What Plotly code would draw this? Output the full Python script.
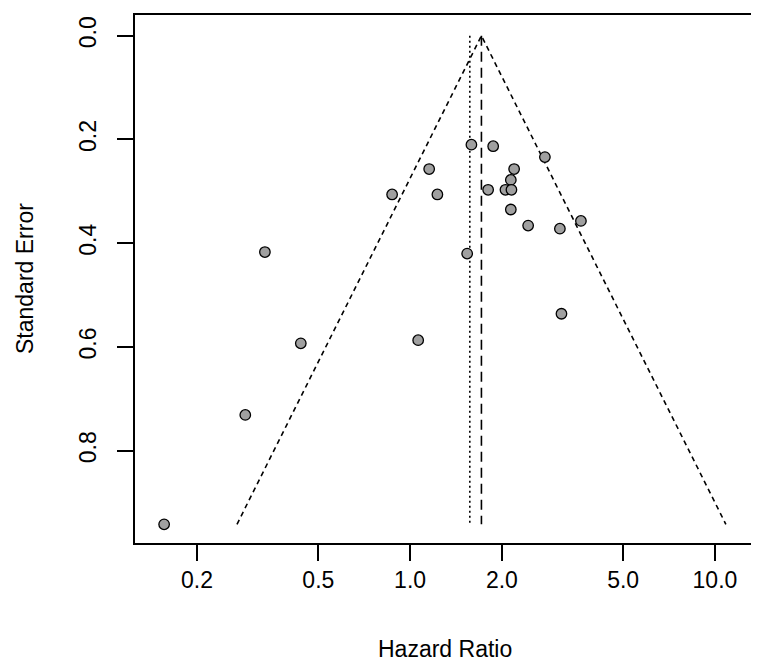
import numpy as np
import plotly.graph_objects as go

# Study-level hazard ratios and their standard errors
hazard_ratio = [1.589, 1.873, 2.768, 2.194, 2.140, 1.803, 2.055, 2.150, 2.140, 2.439,
                3.100, 3.634, 1.539, 3.137, 1.155, 0.873, 1.229, 0.334, 0.438, 1.063,
                0.288, 0.156]
std_error = [0.210, 0.213, 0.234, 0.257, 0.278, 0.297, 0.297, 0.297, 0.335, 0.366,
             0.372, 0.357, 0.420, 0.536, 0.257, 0.306, 0.306, 0.417, 0.593, 0.587,
             0.731, 0.942]

pooled_hr = 1.714      # summary estimate (funnel apex, dashed line)
reference_hr = 1.570   # dotted reference line

x_tick_vals = [0.2, 0.5, 1.0, 2.0, 5.0, 10.0]
x_tick_text = ["0.2", "0.5", "1.0", "2.0", "5.0", "10.0"]
y_tick_vals = [0.0, 0.2, 0.4, 0.6, 0.8]
y_tick_text = ["0.0", "0.2", "0.4", "0.6", "0.8"]

se_max = max(std_error)
ln_est = np.log(pooled_hr)
lower_end = float(np.exp(ln_est - 1.96 * se_max))
upper_end = float(np.exp(ln_est + 1.96 * se_max))

FONT = "Liberation Sans, Arial, sans-serif"

fig = go.Figure()

# funnel (pseudo-confidence) lines
fig.add_trace(go.Scatter(x=[lower_end, pooled_hr, upper_end], y=[se_max, 0, se_max],
                         mode="lines", line=dict(color="black", width=1.6, dash="5px,4px"),
                         hoverinfo="skip", showlegend=False))
# pooled estimate line
fig.add_trace(go.Scatter(x=[pooled_hr, pooled_hr], y=[0, se_max],
                         mode="lines", line=dict(color="black", width=1.6, dash="10px,6px"),
                         hoverinfo="skip", showlegend=False))
# dotted reference line
fig.add_trace(go.Scatter(x=[reference_hr, reference_hr], y=[0, se_max],
                         mode="lines", line=dict(color="black", width=1.6, dash="2px,3px"),
                         hoverinfo="skip", showlegend=False))
# studies
fig.add_trace(go.Scatter(x=hazard_ratio, y=std_error, mode="markers",
                         marker=dict(size=10.5, color="#a0a0a0",
                                     line=dict(color="black", width=1.3)),
                         showlegend=False))

fig.update_xaxes(type="log", range=[-0.9024, 1.1314],
                 tickvals=x_tick_vals, ticktext=x_tick_text,
                 ticks="outside", ticklen=16, tickwidth=1.5, tickcolor="black",
                 showline=True, linecolor="black", linewidth=1.5, mirror=True,
                 showgrid=False, zeroline=False,
                 tickfont=dict(family=FONT, size=23, color="black"))
fig.update_yaxes(range=[0.978, -0.040],
                 tickvals=y_tick_vals, ticktext=y_tick_text, tickangle=-90,
                 ticks="outside", ticklen=16, tickwidth=1.5, tickcolor="black",
                 ticklabelstandoff=12,
                 showline=True, linecolor="black", linewidth=1.5, mirror=True,
                 showgrid=False, zeroline=False,
                 tickfont=dict(family=FONT, size=23, color="black"))

fig.add_annotation(text="Hazard Ratio", xref="paper", yref="paper", x=0.5, y=0,
                   xanchor="center", yanchor="middle", yshift=-106, showarrow=False,
                   font=dict(family=FONT, size=23, color="black"))
fig.add_annotation(text="Standard Error", xref="paper", yref="paper", x=0, y=0.5,
                   xanchor="center", yanchor="middle", xshift=-110, textangle=-90,
                   showarrow=False, font=dict(family=FONT, size=23, color="black"))

fig.update_layout(width=759, height=664,
                  margin=dict(l=127, r=12, t=7, b=128.5, autoexpand=False),
                  plot_bgcolor="white", paper_bgcolor="white")

fig.write_html("out.html")
